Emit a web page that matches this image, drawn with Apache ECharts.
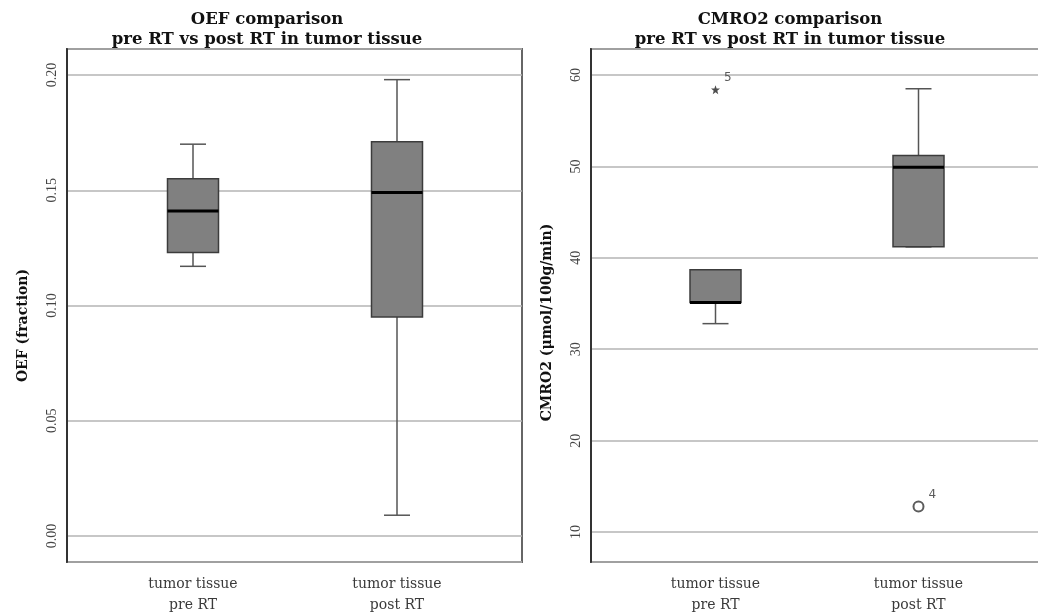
<!DOCTYPE html>
<html>
<head>
<meta charset="utf-8">
<script src="https://cdn.jsdelivr.net/npm/echarts@6/dist/echarts.min.js"></script>
<style>
  html, body { margin: 0; background: #fff; }
  #chart { width: 1038px; height: 616px; }
</style>
</head>
<body>
<div id="chart"></div>
<script>
const categories = ['tumor tissue\npre RT', 'tumor tissue\npost RT'];
// [min, Q1, median, Q3, max]
const oefBoxes = [
  [0.117, 0.123, 0.141, 0.155, 0.170],
  [0.009, 0.095, 0.149, 0.171, 0.198]
];
const cmroBoxes = [
  [32.8, 35.1, 35.1, 38.7, 38.7],
  [41.2, 41.2, 49.9, 51.2, 58.5]
];
// outliers of the CMRO2 plot: group index, value, case number, kind
const cmroOutlierGroup = [0, 1];
const cmroOutlierValues = [58.4, 12.8];
const cmroOutlierCases = ['5', '4'];
const cmroOutlierKinds = ['extreme', 'outlier'];

const serif = 'DejaVu Serif';
const starPath = 'path://M0,-100L23.5,-32.4L95.1,-30.9L38,12.4L58.8,80.9L0,40L-58.8,80.9L-38,12.4L-95.1,-30.9L-23.5,-32.4Z';

let chart = echarts.init(document.getElementById('chart'));

function renderBox(params, api) {
  const i = api.value(0);
  const p = k => api.coord([i, api.value(k)]);
  const lo = p(1), q1 = p(2), md = p(3), q3 = p(4), hi = p(5);
  const cx = lo[0], half = 25.5, cap = 13;
  const whisker = { stroke: '#555', lineWidth: 1.5 };
  return {
    type: 'group',
    children: [
      { type: 'line', shape: { x1: cx, y1: hi[1], x2: cx, y2: q3[1] }, style: whisker },
      { type: 'line', shape: { x1: cx - cap, y1: hi[1], x2: cx + cap, y2: hi[1] }, style: whisker },
      { type: 'line', shape: { x1: cx, y1: q1[1], x2: cx, y2: lo[1] }, style: whisker },
      { type: 'line', shape: { x1: cx - cap, y1: lo[1], x2: cx + cap, y2: lo[1] }, style: whisker },
      {
        type: 'rect',
        shape: { x: cx - half, y: q3[1], width: half * 2, height: q1[1] - q3[1] },
        style: { fill: '#808080', stroke: '#3c3c3c', lineWidth: 1.5 }
      },
      { type: 'line', shape: { x1: cx - half, y1: md[1], x2: cx + half, y2: md[1] }, style: { stroke: '#000', lineWidth: 3 } }
    ]
  };
}

function outerY(min, max, name, fmt, shift) {
  return {
    type: 'value', gridIndex: 0, min: min, max: max, splitNumber: 5,
    name: name, nameLocation: 'middle', nameGap: 37,
    nameTextStyle: {
      fontFamily: serif, fontWeight: 'bold', fontSize: 14, color: '#111',
      padding: [0, shift * 2, 0, 0]
    },
    axisLine: { show: true, lineStyle: { color: '#333', width: 2 } },
    axisTick: { show: false },
    axisLabel: {
      rotate: 90, margin: 8, showMinLabel: false, showMaxLabel: false,
      fontFamily: 'Liberation Serif', fontSize: 14, color: '#444',
      formatter: fmt
    },
    splitLine: { show: true, lineStyle: { color: '#b4b4b4', width: 1.5 } }
  };
}

function innerX(grid) {
  return {
    type: 'category', gridIndex: grid, data: categories,
    axisLine: { show: false }, axisTick: { show: false },
    axisLabel: {
      margin: 12, fontFamily: serif, fontSize: 14, lineHeight: 21, color: '#3a3a3a'
    },
    splitLine: { show: false }
  };
}

let frame = { show: true, borderColor: '#666', borderWidth: 2, backgroundColor: 'transparent', outerBoundsMode: 'none' };
let titleStyle = { fontFamily: serif, fontWeight: 'bold', fontSize: 16.5, lineHeight: 20, color: '#111' };

let option = {
  animation: false,
  backgroundColor: '#fff',
  title: [
    {
      text: 'OEF comparison\npre RT vs post RT in tumor tissue',
      left: 267, top: 10, textAlign: 'center', padding: 0,
      textStyle: titleStyle
    },
    {
      text: 'CMRO2 comparison\npre RT vs post RT in tumor tissue',
      left: 790, top: 10, textAlign: 'center', padding: 0,
      textStyle: titleStyle
    }
  ],
  grid: [
    Object.assign({ left: 67, top: 49, width: 455, height: 513 }, frame),
    { left: 91, top: 49, width: 408, height: 513, show: false, outerBoundsMode: 'none' },
    Object.assign({ left: 591, top: 49, width: 455, height: 513 }, frame),
    { left: 614, top: 49, width: 406, height: 513, show: false, outerBoundsMode: 'none' }
  ],
  xAxis: [
    { type: 'value', gridIndex: 0, min: 0, max: 1, show: false },
    innerX(1),
    { type: 'value', gridIndex: 2, min: 0, max: 1, show: false },
    innerX(3)
  ],
  yAxis: [
    outerY(-0.0113, 0.2113, 'OEF (fraction)', v => v.toFixed(2), 20),
    { type: 'value', gridIndex: 1, min: -0.0113, max: 0.2113, show: false },
    Object.assign(outerY(6.72, 62.85, 'CMRO2 (μmol/100g/min)', v => String(Math.round(v)), 17), { gridIndex: 2 }),
    { type: 'value', gridIndex: 3, min: 6.72, max: 62.85, show: false }
  ],
  series: [
    {
      type: 'custom', xAxisIndex: 1, yAxisIndex: 1,
      renderItem: renderBox,
      encode: { x: 0, y: [1, 2, 3, 4, 5] },
      data: oefBoxes.map((b, i) => [i].concat(b))
    },
    {
      type: 'custom', xAxisIndex: 3, yAxisIndex: 3,
      renderItem: renderBox,
      encode: { x: 0, y: [1, 2, 3, 4, 5] },
      data: cmroBoxes.map((b, i) => [i].concat(b))
    },
    {
      type: 'scatter', xAxisIndex: 3, yAxisIndex: 3,
      symbol: starPath, symbolSize: 9,
      itemStyle: { color: '#222' },
      label: {
        show: true, position: 'right', distance: 4, offset: [0, -12],
        formatter: p => p.data[2], fontFamily: 'DejaVu Sans', fontSize: 12, color: '#333'
      },
      data: cmroOutlierValues.map((v, i) => [cmroOutlierGroup[i], v, cmroOutlierCases[i]])
        .filter((d, i) => cmroOutlierKinds[i] === 'extreme')
    },
    {
      type: 'scatter', xAxisIndex: 3, yAxisIndex: 3,
      symbol: 'emptyCircle', symbolSize: 10,
      itemStyle: { color: '#333', borderColor: '#333', borderWidth: 1.8 },
      label: {
        show: true, position: 'right', distance: 4, offset: [0, -12],
        formatter: p => p.data[2], fontFamily: 'DejaVu Sans', fontSize: 12, color: '#333'
      },
      data: cmroOutlierValues.map((v, i) => [cmroOutlierGroup[i], v, cmroOutlierCases[i]])
        .filter((d, i) => cmroOutlierKinds[i] === 'outlier')
    }
  ]
};

chart.setOption(option);
</script>
</body>
</html>
